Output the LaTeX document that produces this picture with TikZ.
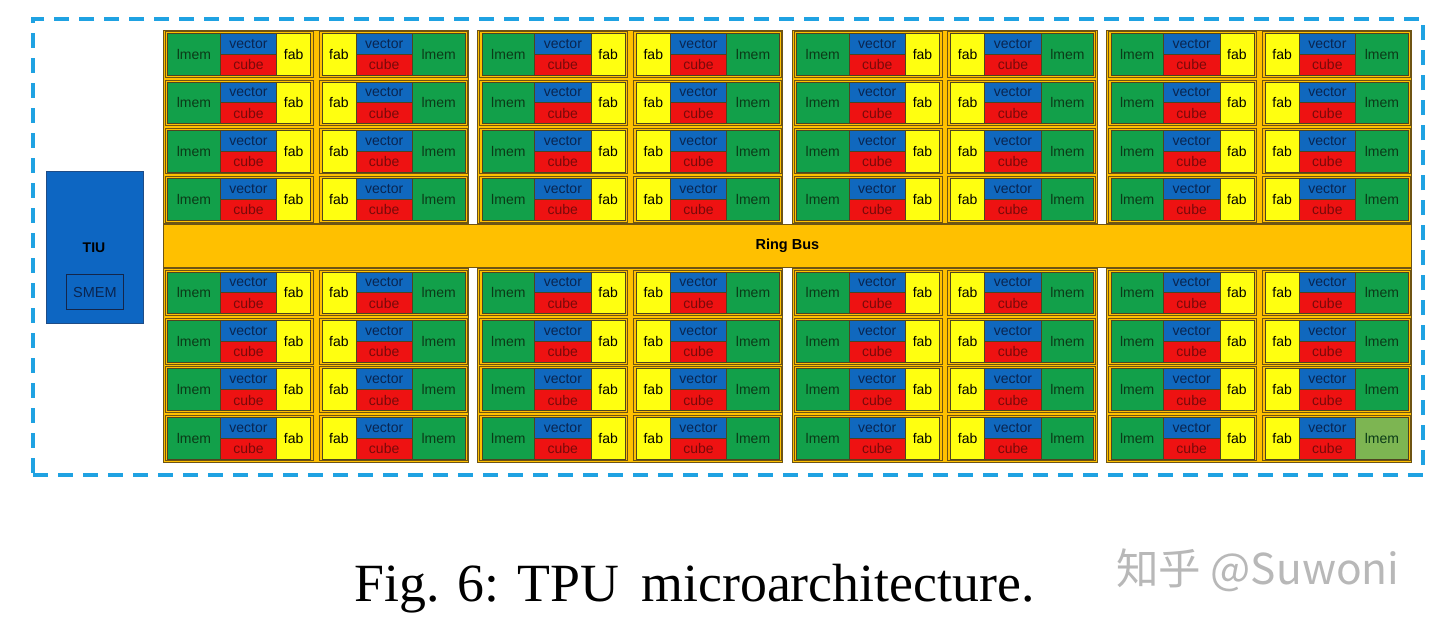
\documentclass[tikz,border=0pt]{standalone}
\usepackage{fontspec}
\setmainfont{Liberation Serif}
\setsansfont{Liberation Sans}
\newfontfamily\cjkfont{Noto Sans CJK SC}
\definecolor{lmemgreen}{HTML}{12A04A}
\definecolor{lastgreen}{HTML}{7DB552}
\definecolor{vecblue}{HTML}{1068BE}
\definecolor{cubered}{HTML}{EE1212}
\definecolor{fabyellow}{HTML}{FFFF10}
\definecolor{busorange}{HTML}{FFC000}
\definecolor{brownline}{HTML}{6E5414}
\definecolor{compline}{HTML}{4E4420}
\definecolor{lmemtext}{HTML}{0B3A18}
\definecolor{vectext}{HTML}{0A2550}
\definecolor{cubetext}{HTML}{780A0A}
\definecolor{tiublue}{HTML}{0D66C2}
\definecolor{tiuline}{HTML}{1E4C86}
\definecolor{smemline}{HTML}{14264A}
\definecolor{dashblue}{HTML}{1FA2E2}
\definecolor{wmgray}{HTML}{B8B8B8}
\tikzset{
  comp/.style={draw=compline, line width=0.8pt, inner sep=0pt, anchor=north west,
    font=\sffamily\fontsize{14}{16}\selectfont},
  lmemc/.style={comp, fill=lmemgreen, text=lmemtext, minimum width=52.5pt, minimum height=41.7pt},
  vecc/.style={comp, fill=vecblue, text=vectext, minimum width=56.5pt, minimum height=20.85pt},
  cubec/.style={comp, fill=cubered, text=cubetext, minimum width=56.5pt, minimum height=20.85pt},
  fabc/.style={comp, fill=fabyellow, text=black, minimum width=34pt, minimum height=41.7pt},
  cellbox/.style={draw=brownline, fill=busorange, line width=0.8pt, inner sep=0pt,
    anchor=north west, minimum width=148pt, minimum height=45.5pt},
  groupbox/.style={draw=brownline, fill=busorange, line width=0.8pt, inner sep=0pt,
    anchor=north west, minimum width=305pt, minimum height=193.2pt},
  busbox/.style={draw=brownline, fill=busorange, line width=0.8pt, inner sep=0pt,
    anchor=north west, minimum width=1248pt, minimum height=42.4pt,
    font=\sffamily\bfseries\fontsize{14.5}{16}\selectfont},
  chipline/.style={draw=dashblue, line width=4pt, dash pattern=on 15pt off 10pt, inner sep=0pt,
    anchor=north west, minimum width=1390pt, minimum height=456pt},
}
\begin{document}
\begin{tikzpicture}[x=1pt,y=-1pt]
\useasboundingbox (0,0) rectangle (1440,627);
\fill[white] (0,0) rectangle (1440,627);
% chip outline
\node[chipline] (chip) at (31,17) {};
% TIU
\node[draw=tiuline, fill=tiublue, line width=1pt, inner sep=0pt, anchor=north west,
  minimum width=97.3pt, minimum height=152.6pt] (tiu) at (46,170.7) {};
\node[font=\sffamily\bfseries\fontsize{14}{16}\selectfont, text=black] (tiulbl) at (94,247.3) {TIU};
\node[draw=smemline, line width=1pt, inner sep=0pt, anchor=north west, text=vectext,
  minimum width=56.7pt, minimum height=35.3pt, font=\sffamily\fontsize{14.5}{16}\selectfont]
  (smem) at (66,274) {SMEM};
% groups
\foreach \g [count=\gi] in {163,477.4,791.8,1106.2} {
  \node[groupbox] (grpT-\gi) at (\g,30) {};
  \node[groupbox] (grpB-\gi) at (\g,268.3) {};
}
% ring bus
\node[busbox] (bus) at (163,224.3) {Ring Bus};
% cells
\foreach \g [count=\gi] in {163,477.4,791.8,1106.2} {
  \foreach \t [count=\ri] in {30,78.3,126.6,174.9,268.3,316.7,365.1,413.5} {
    % cell A: lmem | vector/cube | fab
    \node[cellbox] (cA-\gi-\ri) at (\g+2,\t+1.3) {};
    \node[lmemc] (lA-\gi-\ri) at (\g+4.3,\t+3.3) {lmem};
    \node[vecc]  (vA-\gi-\ri) at (\g+56.8,\t+3.3) {vector};
    \node[cubec] (uA-\gi-\ri) at (\g+56.8,\t+24.15) {cube};
    \node[fabc]  (fA-\gi-\ri) at (\g+113.3,\t+3.3) {fab};
    % cell B: fab | vector/cube | lmem
    \node[cellbox] (cB-\gi-\ri) at (\g+155.5,\t+1.3) {};
    \node[fabc]  (fB-\gi-\ri) at (\g+158.5,\t+3.3) {fab};
    \node[vecc]  (vB-\gi-\ri) at (\g+192.5,\t+3.3) {vector};
    \node[cubec] (uB-\gi-\ri) at (\g+192.5,\t+24.15) {cube};
    \ifnum\gi=4 \ifnum\ri=8
      \node[lmemc, fill=lastgreen] (lB-\gi-\ri) at (\g+249,\t+3.3) {lmem};
    \else
      \node[lmemc] (lB-\gi-\ri) at (\g+249,\t+3.3) {lmem};
    \fi \else
      \node[lmemc] (lB-\gi-\ri) at (\g+249,\t+3.3) {lmem};
    \fi
  }
}
% caption
\node[anchor=base, font=\fontsize{53.8}{60}\selectfont] (cap) at (694.5,601) {Fig. 6: TPU\, microarchitecture.};
% watermark
\node[anchor=west, inner sep=0pt, text=wmgray, font=\cjkfont\fontsize{42.5}{46}\selectfont] (wm) at (1116,570) {知乎 @Suwoni};
\end{tikzpicture}
\end{document}
